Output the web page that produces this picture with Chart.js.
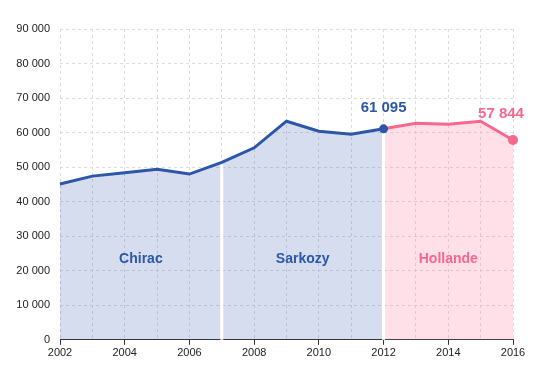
<!DOCTYPE html>
<html>
<head>
<meta charset="utf-8">
<script src="https://cdn.jsdelivr.net/npm/chart.js@4"></script>
<style>
  html, body { margin: 0; padding: 0; background: #fff; }
  #wrap { width: 551px; height: 375px; }
</style>
</head>
<body>
<div id="wrap"><canvas id="canvas"></canvas></div>
<script>
// data
const years = [2002, 2003, 2004, 2005, 2006, 2007, 2008, 2009, 2010, 2011, 2012, 2013, 2014, 2015, 2016];
const values = [45100, 47400, 48400, 49400, 48000, 51400, 55600, 63300, 60400, 59500, 61095, 62700, 62400, 63300, 57844];
const presidents = ['Chirac', 'Sarkozy', 'Hollande'];
const termStart = [2002, 2007, 2012];
const termEnd = [2007, 2012, 2016];
const labelY = 23300;
const yTicks = [0, 10000, 20000, 30000, 40000, 50000, 60000, 70000, 80000, 90000];

const BLUE = '#2c56a8';
const PINK = '#f7688f';
const BLUE_FILL = 'rgba(44, 86, 168, 0.2)';
const PINK_FILL = 'rgba(255, 120, 160, 0.24)';
const termColors = [BLUE, BLUE, PINK];
const termFills = [BLUE_FILL, BLUE_FILL, PINK_FILL];

const fmt = v => String(v).replace(/\B(?=(\d{3})+(?!\d))/g, ' ');

function pointsBetween(a, b) {
    const out = [];
    years.forEach((y, i) => { if (y >= a && y <= b) out.push({ x: y, y: values[i] }); });
    return out;
}

// lines first so they are drawn on top
const datasets = [
    {
        data: pointsBetween(2002, 2012),
        borderColor: BLUE, backgroundColor: BLUE, borderWidth: 3, fill: false, clip: false,
        pointRadius: ctx => ctx.dataIndex === ctx.dataset.data.length - 1 ? 4.5 : 0,
        pointBorderWidth: 0
    },
    {
        data: pointsBetween(2012, 2016),
        borderColor: PINK, backgroundColor: PINK, borderWidth: 3, fill: false, clip: false,
        pointRadius: ctx => ctx.dataIndex === ctx.dataset.data.length - 1 ? 5 : 0,
        pointBorderWidth: 0
    }
];
termStart.forEach((s, i) => {
    datasets.push({
        data: pointsBetween(s, termEnd[i]),
        borderWidth: 0, pointRadius: 0,
        backgroundColor: termFills[i],
        fill: 'origin'
    });
});

// white separators between terms, drawn after the fills, under the line
const separators = {
    id: 'separators',
    afterDatasetDraw(chart, args) {
        if (args.index !== 2) return;
        const { ctx, scales: { x, y } } = chart;
        ctx.save();
        ctx.strokeStyle = '#fff';
        ctx.lineWidth = 3;
        [termStart[1], termStart[2]].forEach(yr => {
            const px = x.getPixelForValue(yr);
            const v = values[years.indexOf(yr)];
            ctx.beginPath();
            ctx.moveTo(px, y.getPixelForValue(0));
            ctx.lineTo(px, y.getPixelForValue(v) + 2);
            ctx.stroke();
        });
        ctx.restore();
    }
};

const textLabels = {
    id: 'textLabels',
    afterDatasetsDraw(chart) {
        const { ctx, scales: { x, y } } = chart;
        ctx.save();
        ctx.textAlign = 'center';
        ctx.textBaseline = 'middle';
        ctx.font = 'bold 14px "Liberation Sans", Arial, sans-serif';
        presidents.forEach((p, i) => {
            ctx.fillStyle = termColors[i];
            ctx.fillText(p, x.getPixelForValue((termStart[i] + termEnd[i]) / 2), y.getPixelForValue(labelY));
        });
        // values at the end of each line
        ctx.font = 'bold 15px "Liberation Sans", Arial, sans-serif';
        const i1 = years.indexOf(2012);
        ctx.fillStyle = BLUE;
        ctx.fillText(fmt(values[i1]), x.getPixelForValue(2012), y.getPixelForValue(values[i1]) - 21);
        const i2 = years.length - 1;
        ctx.fillStyle = PINK;
        ctx.fillText(fmt(values[i2]), x.getPixelForValue(years[i2]) - 12, y.getPixelForValue(values[i2]) - 26);
        ctx.restore();
    }
};

Chart.defaults.font.family = '"Liberation Sans", Arial, sans-serif';
Chart.defaults.font.size = 11;
Chart.defaults.color = '#222';

new Chart(document.querySelector('#canvas'), {
    type: 'line',
    data: { datasets },
    plugins: [separators, textLabels],
    options: {
        responsive: true,
        maintainAspectRatio: false,
        animation: false,
        layout: { padding: { top: 29, right: 38, left: 0, bottom: 13 } },
        plugins: { legend: { display: false }, tooltip: { enabled: false } },
        elements: { line: { tension: 0 } },
        scales: {
            x: {
                type: 'linear',
                min: 2002, max: 2016,
                ticks: {
                    stepSize: 1,
                    autoSkip: false,
                    maxRotation: 0,
                    padding: 2,
                    callback: v => (v % 2 === 0 ? String(v) : '')
                },
                grid: {
                    color: '#dcdcdc',
                    tickLength: 5,
                    tickColor: ctx => (ctx.tick && ctx.tick.value % 2 === 0 ? '#333' : 'rgba(0,0,0,0)'),
                    tickBorderDash: [1, 0]
                },
                border: { display: true, color: '#333', width: 1, dash: [3, 3] }
            },
            y: {
                min: 0, max: 90000,
                afterBuildTicks: axis => { axis.ticks = yTicks.map(v => ({ value: v })); },
                afterFit: axis => { axis.width = 60; },
                ticks: { callback: v => fmt(v), padding: 10 },
                grid: { color: '#dcdcdc', drawTicks: false },
                border: { display: false, dash: [3, 3] }
            }
        }
    }
});
</script>
</body>
</html>
